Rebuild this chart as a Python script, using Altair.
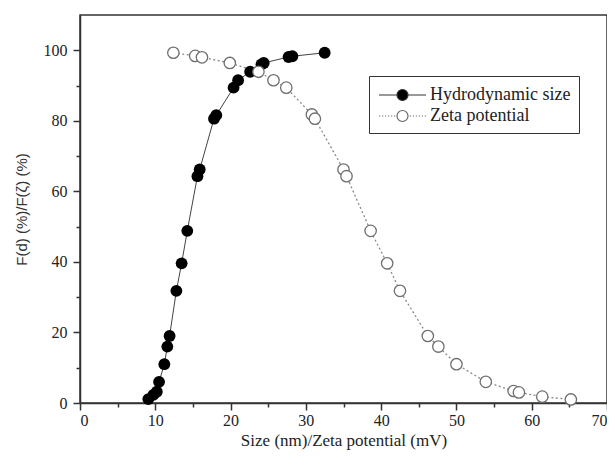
import altair as alt
import pandas as pd

hydro_x = [9.07, 9.74, 10.2, 10.5, 11.2, 11.6, 11.9, 12.8, 13.5, 14.25, 15.6, 15.9, 17.8, 18.1, 20.4, 21.0, 22.6, 24.1, 24.4, 27.7, 28.2, 32.5]
hydro_y = [1.1, 2.3, 3.2, 6.0, 11.0, 16.0, 19.0, 31.8, 39.6, 48.8, 64.3, 66.2, 80.6, 81.6, 89.4, 91.5, 93.9, 96.0, 96.4, 98.1, 98.3, 99.3]
zeta_x = [12.4, 15.3, 16.2, 19.9, 23.7, 25.7, 27.4, 30.8, 31.2, 35.0, 35.4, 38.6, 40.8, 42.5, 46.2, 47.6, 50.0, 53.9, 57.6, 58.3, 61.4, 65.2]
zeta_y = [99.3, 98.4, 98.0, 96.4, 93.9, 91.5, 89.4, 81.8, 80.6, 66.2, 64.3, 48.8, 39.6, 31.8, 19.0, 16.0, 11.0, 6.0, 3.4, 3.0, 1.8, 1.0]
series = ["Hydrodynamic size", "Zeta potential"]

df = pd.concat([
    pd.DataFrame({"x": hydro_x, "y": hydro_y, "series": series[0]}),
    pd.DataFrame({"x": zeta_x, "y": zeta_y, "series": series[1]}),
])

# legend symbols: line + circle (+ dotted line for zeta)
circle = "M-0.55,0A0.55,0.55 0 1,0 0.55,0A0.55,0.55 0 1,0 -0.55,0Z"
solid_path = "M-2.35,0L-0.58,0M0.58,0L2.35,0" + circle
dots_l = "".join(f"M{-2.35 + i*0.3:.2f},0h0.12" for i in range(6))
dots_r = "".join(f"M{0.73 + i*0.3:.2f},0h0.12" for i in range(6))
dotted_path = dots_l + dots_r + circle

serif = "Liberation Serif"

xscale = alt.Scale(domain=[0, 70], nice=False)
yscale = alt.Scale(domain=[0, 110], nice=False)
tick_cond_x = {"condition": {"test": "datum.value % 10 === 0", "value": 7}, "value": 4}
tick_cond_y = {"condition": {"test": "datum.value % 20 === 0", "value": 7}, "value": 4}

xenc = alt.X("x:Q", scale=xscale, title="Size (nm)/Zeta potential (mV)",
             axis=alt.Axis(values=list(range(0, 71, 5)), labelExpr="datum.value % 10 === 0 ? datum.label : ''",
                           tickSize=tick_cond_x, grid=False, labelFont=serif, labelFontSize=16,
                           titleFont=serif, titleFontSize=17, titleFontWeight="normal", titlePadding=4,
                           domainColor="#333", tickColor="#333", labelColor="#222", titleColor="#222",
                           labelPadding=2, domainWidth=1.5, tickWidth=1.5))
yenc = alt.Y("y:Q", scale=yscale, title="F(d) (%)/F(ζ) (%)",
             axis=alt.Axis(values=list(range(0, 101, 10)), labelExpr="datum.value % 20 === 0 ? datum.label : ''",
                           tickSize=tick_cond_y, grid=False, labelFont=serif, labelFontSize=16,
                           titleFont="Liberation Sans", titleFontSize=15, titleFontWeight="normal", titlePadding=14,
                           domainColor="#333", tickColor="#333", labelColor="#222", titleColor="#333",
                           labelPadding=6, domainWidth=1.5, tickWidth=1.5))

base = alt.Chart(df)

hydro_line = base.transform_filter(alt.datum.series == series[0]).mark_line(
    color="#444", strokeWidth=1).encode(x=xenc, y=yenc, order="x:Q")
zeta_line = base.transform_filter(alt.datum.series == series[1]).mark_line(
    color="#888", strokeWidth=1.3, strokeDash=[2, 2.5]).encode(x=xenc, y=yenc, order="x:Q")

hydro_pts = base.transform_filter(alt.datum.series == series[0]).mark_point(
    shape="circle", filled=True, color="black", size=140, opacity=1).encode(x=xenc, y=yenc)
zeta_pts = base.transform_filter(alt.datum.series == series[1]).mark_point(
    shape="circle", filled=False, color="#6e6e6e", fill="white", fillOpacity=1, strokeWidth=1.3, size=130, opacity=1).encode(x=xenc, y=yenc)

leg = alt.Legend(title=None, orient="none", legendX=289, legendY=61,
                 symbolSize=400, symbolOpacity=1, symbolStrokeWidth=1.2,
                 symbolOffset=14.5, labelFont=serif, labelFontSize=18,
                 labelColor="#222", strokeColor="#333", fillColor="white",
                 padding=8, rowPadding=1, labelOffset=16.5)

legend_layer = base.mark_point(opacity=0, size=1, filled=False).encode(
    x=xenc, y=yenc,
    shape=alt.Shape("series:N", scale=alt.Scale(domain=series, range=[solid_path, dotted_path]), legend=leg),
    fill=alt.Fill("series:N", scale=alt.Scale(domain=series, range=["black", "white"]), legend=leg),
    stroke=alt.Stroke("series:N", scale=alt.Scale(domain=series, range=["#333", "#666"]), legend=leg),
)

chart = alt.layer(hydro_line, zeta_line, hydro_pts, zeta_pts, legend_layer).properties(
    width=527, height=388,
    padding={"left": 72, "top": 7, "right": 0, "bottom": 55},
    autosize=alt.AutoSizeParams(type="none"),
).configure_view(stroke="#333", strokeWidth=1.5)

chart.save("out.html", embed_options={"renderer": "svg", "actions": False})
